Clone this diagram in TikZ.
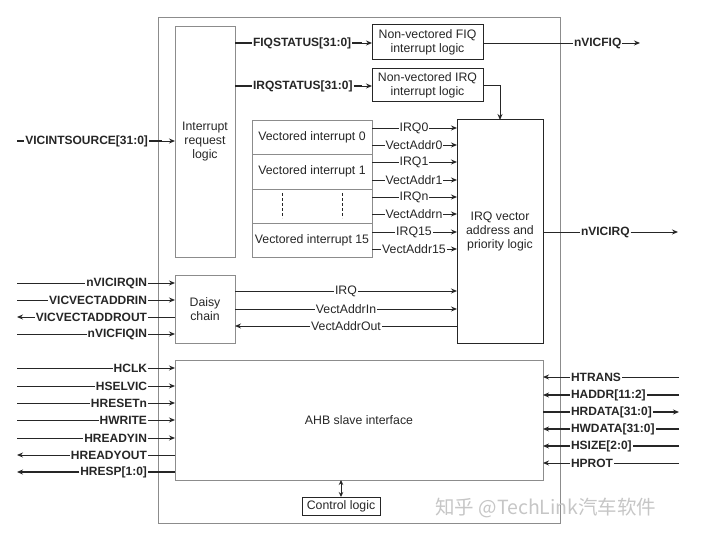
\documentclass[tikz,border=0pt]{standalone}
\usepackage{fontspec}
\setmainfont{Liberation Sans}
\newfontfamily\cjk{Noto Sans CJK SC}
\usetikzlibrary{arrows.meta}
\definecolor{boxgray}{gray}{0.55}
\definecolor{linedark}{gray}{0.15}
\tikzset{
  gbox/.style={draw=boxgray, line width=0.9pt, outer sep=0pt, inner sep=2pt, anchor=north west, align=center, font=\fontsize{12.3}{14.3}\selectfont, text=linedark},
  kbox/.style={draw=linedark, line width=1pt, outer sep=0pt, inner sep=2pt, anchor=north west, align=center, font=\fontsize{12.3}{14.3}\selectfont, text=linedark},
  sig/.style={inner sep=1pt, outer sep=0pt, font=\fontsize{12}{14}\selectfont\bfseries, text=linedark},
  lab/.style={inner sep=1pt, outer sep=0pt, font=\fontsize{12.3}{14}\selectfont, text=linedark},
  wire/.style={draw=linedark, line width=0.9pt},
  bus/.style={draw=linedark, line width=1.9pt},
  tip/.style={-{Stealth[length=6pt,width=5pt]}},
}
\begin{document}
\begin{tikzpicture}[x=1pt,y=-1pt]
\useasboundingbox (0,0) rectangle (720,537);
% outer box
\node[gbox, minimum width=402pt, minimum height=506pt] (outer) at (158,17) {};
% main blocks
\node[gbox, minimum width=60pt, minimum height=231pt] (irl) at (175,26) {};
\node[lab, align=center] (irltxt) at (205,142) {Interrupt\\request\\logic};
\node[kbox, minimum width=111pt, minimum height=35pt] (fiqb) at (372,25) {Non-vectored FIQ\\interrupt logic};
\node[kbox, minimum width=111pt, minimum height=33pt] (irqb) at (372,69) {Non-vectored IRQ\\interrupt logic};
\node[kbox, minimum width=86pt, minimum height=223pt] (ivec) at (457,120) {IRQ vector\\address and\\priority logic};
\node[gbox, minimum width=120pt, minimum height=34pt] (v0) at (252,120) {Vectored interrupt 0};
\node[gbox, minimum width=120pt, minimum height=35pt] (v1) at (252,154) {Vectored interrupt 1};
\node[gbox, minimum width=120pt, minimum height=34pt] (vn) at (252,189) {};
\node[gbox, minimum width=120pt, minimum height=34pt] (v15) at (252,223) {Vectored interrupt 15};
\draw[linedark, line width=0.9pt, dash pattern=on 3pt off 2pt] (282,193) -- (282,218);
\draw[linedark, line width=0.9pt, dash pattern=on 3pt off 2pt] (342,193) -- (342,218);
\node[gbox, minimum width=60pt, minimum height=68pt] (dc) at (175,275) {Daisy\\chain};
\node[gbox, minimum width=368pt, minimum height=120pt] (ahb) at (175,360) {};
\node[lab] (ahbtxt) at (359,420) {AHB slave interface};
\node[kbox, minimum width=78pt, minimum height=18pt, inner sep=1pt] (ctl) at (302,497) {Control logic};

% top status buses
\node[sig, anchor=west] (fiqs) at (252,43) {FIQSTATUS[31:0]};
\node[sig, anchor=west] (irqs) at (252,86) {IRQSTATUS[31:0]};
\draw[bus] (irl.east |- fiqs) -- (fiqs.west);
\draw[bus] (irl.east |- irqs) -- (irqs.west);
\draw[bus] (fiqs.east) -- (362,43);
\draw[wire, tip] (362,43) -- (fiqb.west |- fiqs);
\draw[bus] (irqs.east) -- (362,86);
\draw[wire, tip] (362,86) -- (irqb.west |- irqs);

% nVICFIQ
\node[sig, anchor=west] (nfiq) at (573,43) {nVICFIQ};
\coordinate (nfiqe) at (640,43);
\draw[wire] (fiqb.east |- nfiq) -- (nfiq.west);
\draw[wire, tip] (nfiq.east) -- (nfiqe);
% IRQ to vector
\draw[wire, tip] (irqb.east) -| (ivec.north);
% nVICIRQ
\node[sig, anchor=west] (nirq) at (580,232) {nVICIRQ};
\coordinate (nirqe) at (678,232);
\draw[wire] (ivec.east |- nirq) -- (nirq.west);
\draw[wire, tip] (nirq.east) -- (nirqe);

% vectored signals
\foreach \n/\t/\y in {a/IRQ0/128, b/VectAddr0/145, c/IRQ1/162, d/VectAddr1/180, e/IRQn/197, f/VectAddrn/214, g/IRQ15/232, h/VectAddr15/249}{
  \node[lab] (m\n) at (414,\y) {\t};
  \draw[wire] (v0.east |- m\n) -- (m\n.west);
  \draw[wire, tip] (m\n.east) -- (ivec.west |- m\n);
}

% daisy chain signals
\node[lab] (dirq) at (346,291) {IRQ};
\node[lab] (dvin) at (346,309) {VectAddrIn};
\node[lab] (dvout) at (346,326) {VectAddrOut};
\draw[wire] (dc.east |- dirq) -- (dirq.west);
\draw[wire, tip] (dirq.east) -- (ivec.west |- dirq);
\draw[wire] (dc.east |- dvin) -- (dvin.west);
\draw[wire, tip] (dvin.east) -- (ivec.west |- dvin);
\draw[wire, tip] (dvout.west) -- (dc.east |- dvout);
\draw[wire] (ivec.west |- dvout) -- (dvout.east);

% VICINTSOURCE
\node[sig, anchor=east] (vsrc) at (149,141) {VICINTSOURCE[31:0]};
\coordinate (vsrcs) at (17,141);
\draw[bus] (vsrcs) -- (vsrc.west);
\draw[bus] (vsrc.east) -- (162,141);
\draw[wire, tip] (162,141) -- (irl.west |- vsrc);

% left inputs to daisy chain
\foreach \n/\t/\y in {a/nVICIRQIN/283, b/VICVECTADDRIN/300, d/nVICFIQIN/334}{
  \node[sig, anchor=east] (d\n) at (148,\y) {\t};
  \coordinate (ds\n) at (17,\y);
  \draw[wire] (ds\n) -- (d\n.west);
  \draw[wire, tip] (d\n.east) -- (dc.west |- d\n);
}
\node[sig, anchor=east] (dc3) at (148,317) {VICVECTADDROUT};
\coordinate (dsc) at (17,317);
\draw[wire, tip] (dc3.west) -- (dsc);
\draw[wire] (dc.west |- dc3) -- (dc3.east);

% left AHB inputs
\foreach \n/\t/\y in {a/HCLK/368, b/HSELVIC/386, c/HRESETn/403, d/HWRITE/420, e/HREADYIN/438}{
  \node[sig, anchor=east] (h\n) at (148,\y) {\t};
  \coordinate (hs\n) at (17,\y);
  \draw[wire] (hs\n) -- (h\n.west);
  \draw[wire, tip] (h\n.east) -- (ahb.west |- h\n);
}
\node[sig, anchor=east] (hf) at (148,455) {HREADYOUT};
\coordinate (hsf) at (17,455);
\draw[wire, tip] (hf.west) -- (hsf);
\draw[wire] (ahb.west |- hf) -- (hf.east);
\node[sig, anchor=east] (hg) at (148,472) {HRESP[1:0]};
\coordinate (hsg) at (17,472);
\draw[bus, tip] (hg.west) -- (hsg);
\draw[bus] (ahb.west |- hg) -- (hg.east);

% right AHB signals
\node[sig, anchor=west] (ra) at (570,377) {HTRANS};
\coordinate (rea) at (679,377);
\draw[wire] (rea) -- (ra.east);
\draw[wire, tip] (ra.west) -- (ahb.east |- ra);
\foreach \n/\t/\y in {b/HADDR[11:2]/395, d/HWDATA[31:0]/429, e/HSIZE[2:0]/446}{
  \node[sig, anchor=west] (r\n) at (570,\y) {\t};
  \coordinate (re\n) at (679,\y);
  \draw[bus] (re\n) -- (r\n.east);
  \draw[bus, tip] (r\n.west) -- (ahb.east |- r\n);
}
\node[sig, anchor=west] (rc) at (570,412) {HRDATA[31:0]};
\coordinate (rec) at (679,412);
\draw[bus] (ahb.east |- rc) -- (rc.west);
\draw[bus, tip] (rc.east) -- (rec);
\node[sig, anchor=west] (rf) at (570,463) {HPROT};
\coordinate (ref) at (679,463);
\draw[wire] (ref) -- (rf.east);
\draw[wire, tip] (rf.west) -- (ahb.east |- rf);

% control logic
\draw[wire, {Stealth[length=5pt,width=4.5pt]}-{Stealth[length=5pt,width=4.5pt]}] (ctl.north) -- (ctl.north |- ahb.south);

% watermark
\node[text=gray!45, font=\cjk\fontsize{19.5}{22}\selectfont, anchor=west, inner sep=0pt] (wm) at (435,508) {知乎 @TechLink汽车软件};
\end{tikzpicture}
\end{document}
